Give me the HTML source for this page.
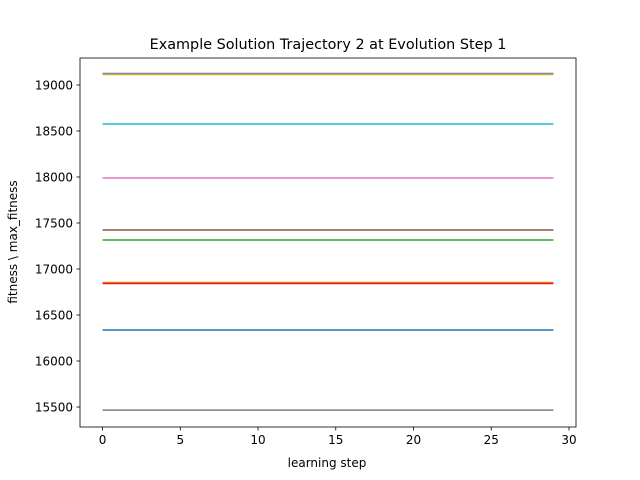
<!DOCTYPE html>
<html><head><meta charset="utf-8"><style>
body{margin:0;background:#fff;}
svg{display:block;font-family:"DejaVu Sans","Liberation Sans",sans-serif;}
</style></head><body>
<svg id="chart" width="640" height="480">
<rect width="640" height="480" fill="#fff"/>
<text x="328" y="49" text-anchor="middle" font-size="14.4" fill="#000">Example Solution Trajectory 2 at Evolution Step 1</text>
<text x="327" y="467" text-anchor="middle" font-size="12" fill="#000">learning step</text>
<text transform="translate(17,242) rotate(-90)" text-anchor="middle" font-size="12" fill="#000">fitness \ max_fitness</text>
<g id="series"></g>
<g id="axes"></g>
</svg>
<script>
const steps = [0,1,2,3,4,5,6,7,8,9,10,11,12,13,14,15,16,17,18,19,20,21,22,23,24,25,26,27,28,29];
const seriesLevels = [16337, 16853, 17315, 16842, 19125, 17424, 17989, 15467, 19114, 18576];
const seriesColors = ["#1f77b4","#ff7f0e","#2ca02c","#d62728","#9467bd","#8c564b","#e377c2","#7f7f7f","#bcbd22","#17becf"];
const xTicks = [0,5,10,15,20,25,30];
const yTicks = [15500,16000,16500,17000,17500,18000,18500,19000];
const L=80,R=576,T=58,B=427;
const xMin=-1.45,xMax=30.45,yMin=15283,yMax=19293;
const xs=v=>L+(v-xMin)/(xMax-xMin)*(R-L);
const ys=v=>B-(v-yMin)/(yMax-yMin)*(B-T);
const NS="http://www.w3.org/2000/svg";
const sg=document.getElementById('series'), ag=document.getElementById('axes');
function mk(tag,attrs,parent){const e=document.createElementNS(NS,tag);for(const k in attrs)e.setAttribute(k,attrs[k]);parent.appendChild(e);return e;}
seriesLevels.forEach((lv,i)=>{
  const pts=steps.map(s=>xs(s)+","+ys(lv)).join(" ");
  const p=mk('polyline',{points:pts,fill:'none',stroke:seriesColors[i],'stroke-width':1.5},sg);
  
  
});
const frame=mk('rect',{x:L,y:T,width:R-L,height:B-T,fill:'none',stroke:'#000','stroke-width':0.8},ag);


xTicks.forEach(t=>{
  const x=xs(t);
  mk('line',{x1:x,x2:x,y1:B,y2:B+3.5,stroke:'#000','stroke-width':0.8},ag);
  const tx=mk('text',{x:x,y:B+17,'text-anchor':'middle','font-size':12,fill:'#000'},ag);
  tx.textContent=t;
  
  
});
yTicks.forEach(t=>{
  const y=ys(t);
  mk('line',{x1:L-3.5,x2:L,y1:y,y2:y,stroke:'#000','stroke-width':0.8},ag);
  const tx=mk('text',{x:L-7,y:y+4.5,'text-anchor':'end','font-size':12,fill:'#000'},ag);
  tx.textContent=t;
  
  
});
</script>
</body></html>
